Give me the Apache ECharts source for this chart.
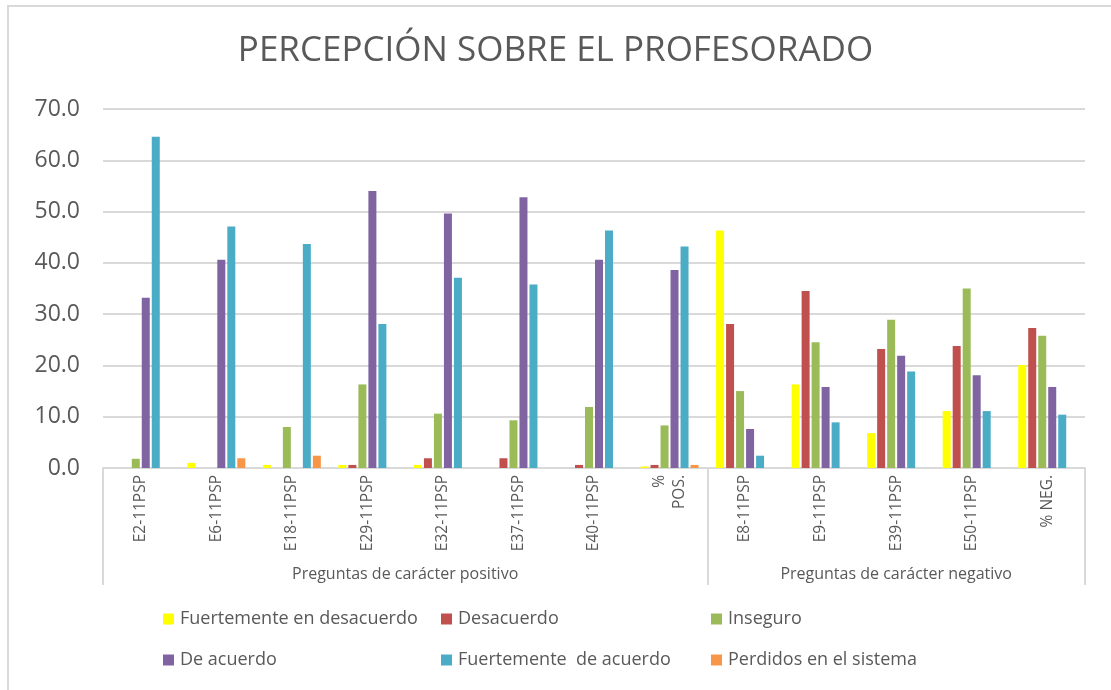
<!DOCTYPE html>
<html>
<head>
<meta charset="utf-8">
<title>Percepción sobre el profesorado</title>
<script src="https://cdn.jsdelivr.net/npm/echarts@6/dist/echarts.min.js"></script>
<style>
html, body { margin: 0; padding: 0; background: #fff; }
#chart { position: absolute; left: 0; top: 0; width: 1111px; height: 690px; }
#frame { position: absolute; left: 7px; top: 5px; width: 1200px; height: 800px; border: 2px solid #d9d9d9; }
</style>
</head>
<body>
<div id="frame"></div>
<div id="chart"></div>
<script>
// preguntas (eje principal)
var categories = ['E2-11PSP', 'E6-11PSP', 'E18-11PSP', 'E29-11PSP', 'E32-11PSP', 'E37-11PSP', 'E40-11PSP', '%\nPOS.',
	'E8-11PSP', 'E9-11PSP', 'E39-11PSP', 'E50-11PSP', '% NEG.'];
// grupos (eje secundario)
var groupNames = ['Preguntas de carácter positivo', 'Preguntas de carácter negativo'];
var groupSizes = [8, 5];

var seriesNames = ['Fuertemente en desacuerdo', 'Desacuerdo', 'Inseguro', 'De acuerdo', 'Fuertemente  de acuerdo', 'Perdidos en el sistema'];
var fuertDesacuerdo = [0, 1.0, 0.6, 0.6, 0.6, 0, 0, 0.3, 46.3, 16.3, 6.8, 11.1, 20.1];
var desacuerdo = [0, 0, 0, 0.6, 1.9, 1.9, 0.6, 0.6, 28.1, 34.5, 23.2, 23.8, 27.3];
var inseguro = [1.8, 0, 8.0, 16.3, 10.6, 9.3, 11.9, 8.3, 15.0, 24.5, 28.9, 35.0, 25.8];
var deAcuerdo = [33.2, 40.6, 0, 54.0, 49.6, 52.8, 40.6, 38.6, 7.6, 15.8, 21.9, 18.1, 15.8];
var fuertAcuerdo = [64.6, 47.1, 43.7, 28.1, 37.1, 35.8, 46.3, 43.2, 2.4, 8.9, 18.8, 11.1, 10.4];
var perdidos = [0, 1.9, 2.4, 0, 0, 0, 0, 0.6, 0, 0, 0, 0, 0];
var yTicks = [0, 10, 20, 30, 40, 50, 60, 70];

var colors = ['#FFFF00', '#C0504D', '#9BBB59', '#8064A2', '#4BACC6', '#F79646'];
var allData = [fuertDesacuerdo, desacuerdo, inseguro, deAcuerdo, fuertAcuerdo, perdidos];

// eje de grupos: medias categorías, sin boundaryGap
var halfSlots = [];
var groupLabelIdx = {};
var groupEdgeIdx = { 0: true };
var pos = 0;
for (var g = 0; g < groupSizes.length; g++) {
	groupLabelIdx[pos + groupSizes[g]] = groupNames[g];
	pos += groupSizes[g] * 2;
	groupEdgeIdx[pos] = true;
}
for (var i = 0; i <= pos; i++) {
	halfSlots.push(groupLabelIdx[i] || '');
}

var myChart = echarts.init(document.getElementById('chart'));
var font = '"Open Sans", sans-serif';
var txt = '#595959';

var series = [];
for (var s = 0; s < seriesNames.length; s++) {
	series.push({
		name: seriesNames[s],
		type: 'bar',
		data: allData[s],
		barWidth: 8,
		barGap: '25%',
		itemStyle: { color: colors[s] }
	});
}

var legends = [];
for (var c = 0; c < 3; c++) {
	legends.push({
		orient: 'vertical',
		left: [163, 441, 711][c],
		top: 610,
		padding: 0,
		itemGap: 23,
		itemWidth: 11,
		itemHeight: 11,
		icon: 'rect',
		data: [seriesNames[c], seriesNames[c + 3]],
		textStyle: { fontFamily: font, fontSize: 18, color: txt, padding: [0, 0, 0, 1] }
	});
}

var option = {
	animation: false,
	color: colors,
	title: {
		text: 'PERCEPCIÓN SOBRE EL PROFESORADO',
		left: 'center',
		top: 29,
		textStyle: { fontFamily: font, fontSize: 35, fontWeight: 'normal', color: txt }
	},
	legend: legends,
	grid: { left: 103, right: 26, top: 109, bottom: 222, containLabel: false },
	xAxis: [{
		type: 'category',
		data: categories,
		position: 'bottom',
		axisLine: { lineStyle: { color: '#d9d9d9', width: 2 } },
		axisTick: { show: false },
		axisLabel: {
			interval: 0,
			rotate: 90,
			margin: 7,
			fontFamily: font,
			fontSize: 15.5,
			lineHeight: 20,
			color: txt
		}
	}, {
		type: 'category',
		data: halfSlots,
		position: 'bottom',
		boundaryGap: false,
		axisLine: { show: false },
		axisTick: {
			show: true,
			length: 117,
			interval: function (idx) { return !!groupEdgeIdx[idx]; },
			lineStyle: { color: '#d9d9d9', width: 2 }
		},
		axisLabel: {
			interval: function (idx) { return !!groupLabelIdx[idx]; },
			margin: 98,
			fontFamily: font,
			fontSize: 16,
			color: txt
		}
	}],
	yAxis: {
		type: 'value',
		min: yTicks[0],
		max: yTicks[yTicks.length - 1],
		interval: 10,
		axisLine: { show: false },
		axisTick: { show: false },
		splitLine: { lineStyle: { color: '#d9d9d9', width: 2 } },
		axisLabel: {
			margin: 23,
			fontFamily: font,
			fontSize: 23,
			color: txt,
			formatter: function (v) { return v.toFixed(1); }
		}
	},
	series: series
};
myChart.setOption(option);
</script>
</body>
</html>
